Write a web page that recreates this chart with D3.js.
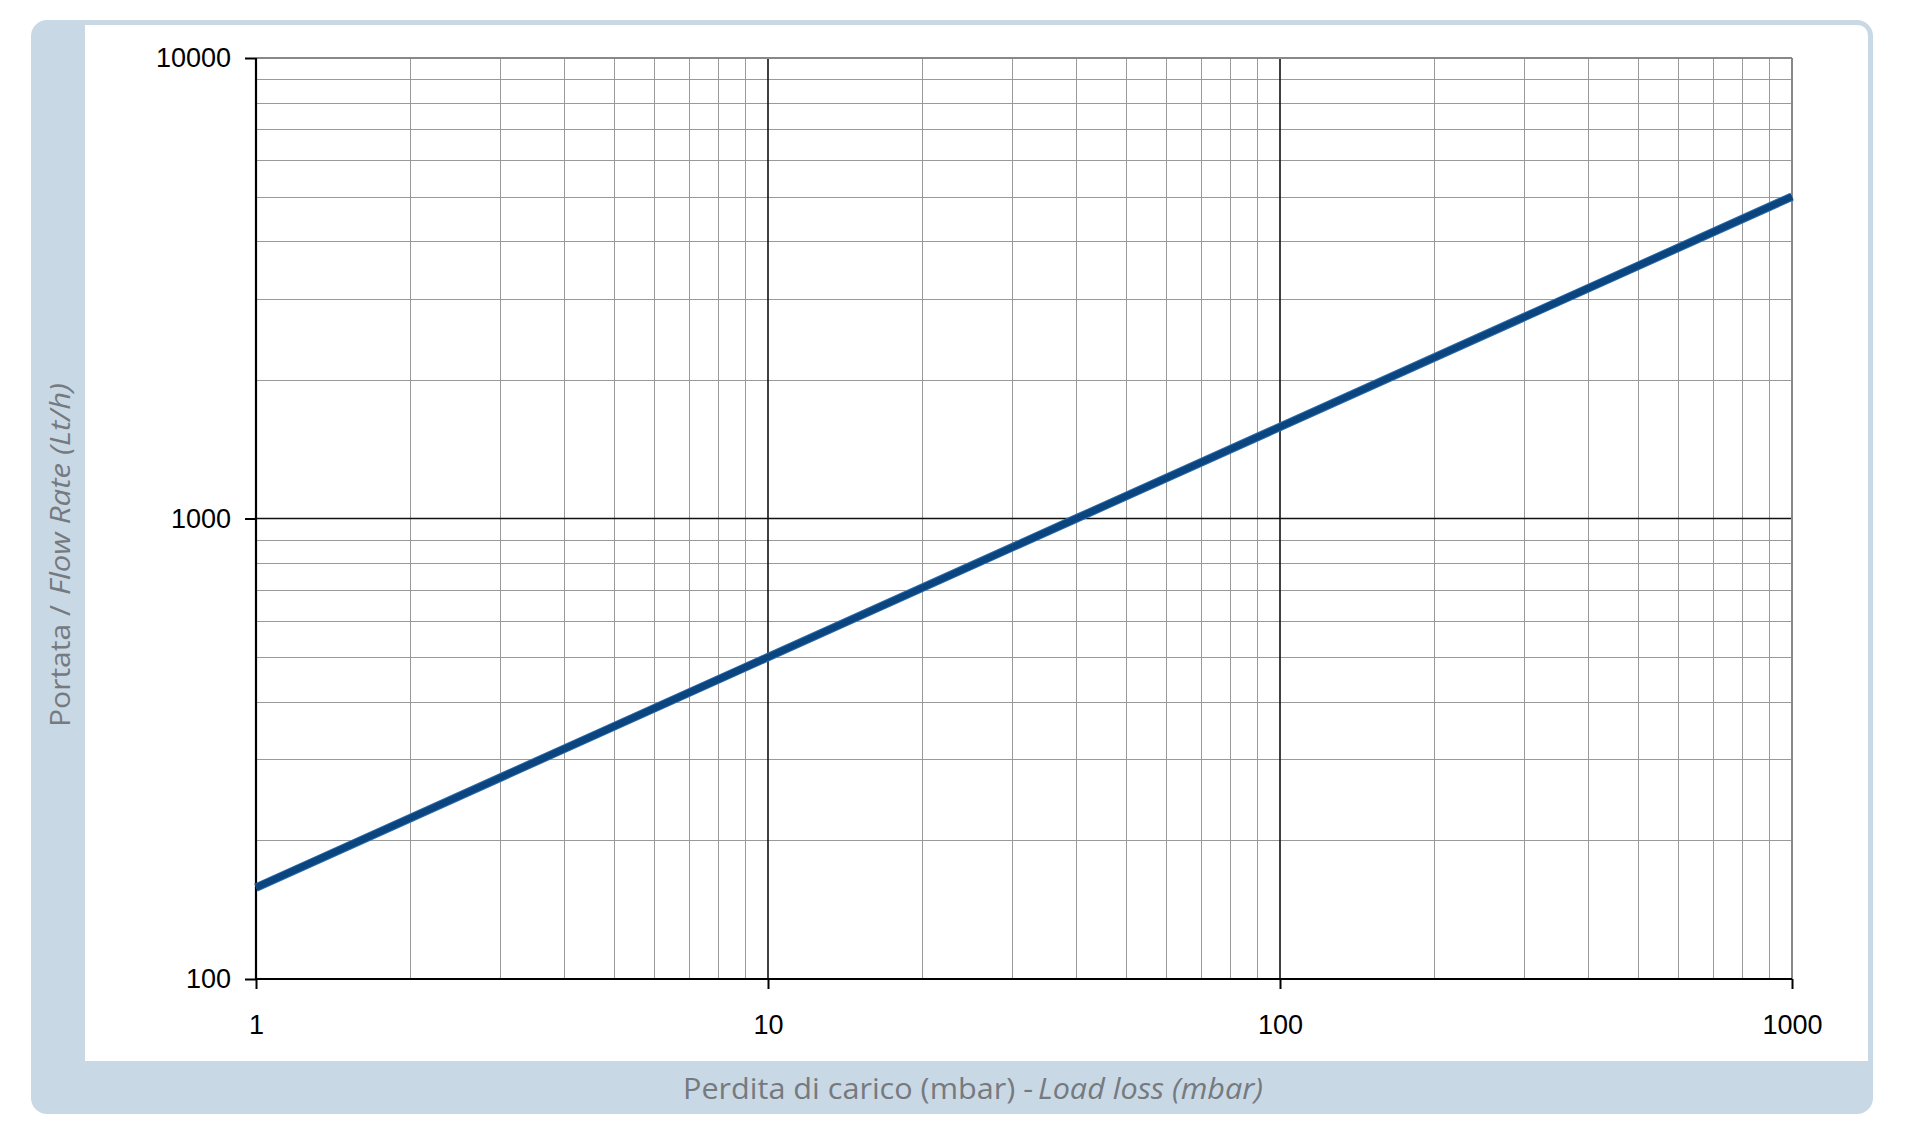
<!DOCTYPE html>
<html>
<head>
<meta charset="utf-8">
<script src="https://cdn.jsdelivr.net/npm/d3@7"></script>
<style>
html,body{margin:0;padding:0;background:#fff;}
svg{display:block;}
</style>
</head>
<body>
<svg id="chart" width="1912" height="1140"></svg>
<script>
// Data (log-log straight line)
const lossMbar = [1, 10, 40, 100, 1000];
const flowLth  = [158, 500, 1000, 1581, 5000];
const xTickLabels = ["1", "10", "100", "1000"];
const yTickLabels = ["100", "1000", "10000"];
const xTitle = "Perdita di carico (mbar) -";
const xTitleItalic = "Load loss (mbar)";
const yTitle = "Portata /";
const yTitleItalic = "Flow Rate (Lt/h)";

const svg = d3.select("#chart");
const frameBlue = "#c9d8e5";

// frame
svg.append("rect").attr("x",31).attr("y",20).attr("width",1842).attr("height",1094)
  .attr("rx",16).attr("ry",16).attr("fill",frameBlue);
// inner white with rounded top-right
const wx0=85, wy0=25, wx1=1868, wy1=1061, r=12;
svg.append("path").attr("fill","#fff")
  .attr("d",`M${wx0},${wy0} H${wx1-r} Q${wx1},${wy0} ${wx1},${wy0+r} V${wy1} H${wx0} Z`);

const m = {left:256, right:1792, top:58, bottom:979};
const x = d3.scaleLog().domain([1,1000]).range([m.left,m.right]);
const y = d3.scaleLog().domain([100,10000]).range([m.bottom,m.top]);

const g = svg.append("g");

// minor grid
const minorX = [], minorY = [];
[1,10,100].forEach(d=>{ for(let k=2;k<=9;k++) minorX.push(d*k); });
[100,1000].forEach(d=>{ for(let k=2;k<=9;k++) minorY.push(d*k); });

g.selectAll(".mx").data(minorX).join("line")
  .attr("x1",d=>Math.round(x(d))+0.5).attr("x2",d=>Math.round(x(d))+0.5)
  .attr("y1",m.top).attr("y2",m.bottom)
  .attr("stroke","#9a9a9a").attr("stroke-width",1);
g.selectAll(".my").data(minorY).join("line")
  .attr("y1",d=>Math.round(y(d))+0.5).attr("y2",d=>Math.round(y(d))+0.5)
  .attr("x1",m.left).attr("x2",m.right)
  .attr("stroke","#9a9a9a").attr("stroke-width",1);

// major grid
g.selectAll(".Mx").data([10,100]).join("line")
  .attr("x1",d=>x(d)).attr("x2",d=>x(d)).attr("y1",m.top).attr("y2",m.bottom)
  .attr("stroke","#111").attr("stroke-width",1.6);
g.selectAll(".My").data([1000]).join("line")
  .attr("y1",d=>y(d)).attr("y2",d=>y(d)).attr("x1",m.left).attr("x2",m.right)
  .attr("stroke","#111").attr("stroke-width",1.6);

// top and right border (gray)
g.append("line").attr("x1",m.left).attr("x2",m.right).attr("y1",m.top).attr("y2",m.top)
  .attr("stroke","#888").attr("stroke-width",2);
g.append("line").attr("x1",m.right).attr("x2",m.right).attr("y1",m.top).attr("y2",m.bottom)
  .attr("stroke","#888").attr("stroke-width",2);

// axes
const xAxis = d3.axisBottom(x).tickValues([1,10,100,1000])
  .tickFormat((d,i)=>xTickLabels[i]).tickSize(10).tickPadding(26);
const yAxis = d3.axisLeft(y).tickValues([100,1000,10000])
  .tickFormat((d,i)=>yTickLabels[i]).tickSize(11).tickPadding(14);

const xa = svg.append("g").attr("transform",`translate(0,${m.bottom})`).call(xAxis);
const ya = svg.append("g").attr("transform",`translate(${m.left},0)`).call(yAxis);
[xa,ya].forEach(a=>{
  a.select(".domain").attr("stroke","#000").attr("stroke-width",2.2);
  a.selectAll(".tick line").attr("stroke","#000").attr("stroke-width",2);
  a.selectAll("text").attr("fill","#000")
    .style("font-family","'Liberation Sans', Arial, sans-serif").style("font-size","27px");
});
xa.select(".domain").attr("d",`M${m.left},0H${m.right}`);
ya.select(".domain").attr("d",`M0,${m.bottom}V${m.top}`);

// data line
const line = d3.line().x(d=>x(d[0])).y(d=>y(d[1]));
const pts = lossMbar.map((d,i)=>[d,flowLth[i]]);
svg.append("path").datum(pts).attr("d",line).attr("fill","none")
  .attr("stroke","#2b6aa6").attr("stroke-width",8.5).attr("stroke-linecap","butt");
svg.append("path").datum(pts).attr("d",line).attr("fill","none")
  .attr("stroke","#0b4580").attr("stroke-width",6.5).attr("stroke-linecap","butt");

// axis titles
const tFont = "'Open Sans', 'Noto Sans', sans-serif";
function titlePart(tx, rot, txt, italic, len, size){
  svg.append("text")
    .attr("transform",`translate(${tx[0]},${tx[1]})${rot?" rotate(-90)":""}`)
    .attr("text-anchor","start")
    .attr("fill","#767a7e").style("font-family",tFont).style("font-size",size+"px")
    .style("font-style",italic?"italic":"normal")
    .attr("textLength",len).attr("lengthAdjust","spacingAndGlyphs")
    .text(txt);
}
titlePart([683,1099], false, xTitle, false, 350, 29);
titlePart([1038,1099], false, xTitleItalic, true, 225, 29);
titlePart([70,727], true, yTitle, false, 122, 28);
titlePart([70,595], true, yTitleItalic, true, 212, 28);
</script>
</body>
</html>
